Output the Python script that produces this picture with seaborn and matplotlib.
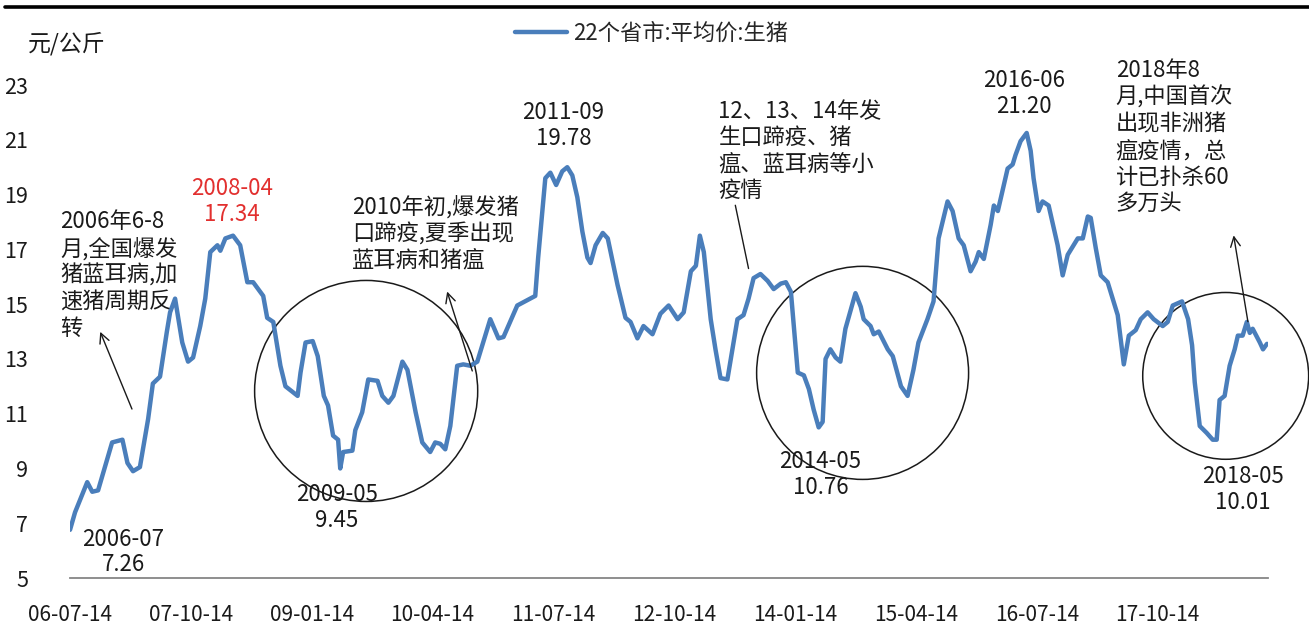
import pandas as pd
import matplotlib
matplotlib.use('Agg')
import matplotlib.pyplot as plt
import matplotlib.dates as mdates
from matplotlib.patches import Ellipse
from matplotlib.lines import Line2D
import seaborn as sns

# 数据：22个省市生猪平均价（元/公斤）
dates = [
    '2006-07-14', '2006-08-02', '2006-09-17', '2006-10-06', '2006-10-28', '2006-12-20',
    '2007-01-28', '2007-02-16', '2007-03-09', '2007-04-04', '2007-05-05', '2007-05-23',
    '2007-06-19', '2007-07-15', '2007-07-27', '2007-08-15', '2007-09-11', '2007-10-03',
    '2007-10-22', '2007-11-18', '2007-12-07', '2007-12-26', '2008-01-22', '2008-02-02',
    '2008-02-21', '2008-03-21', '2008-04-17', '2008-05-14', '2008-06-05', '2008-06-24',
    '2008-07-13', '2008-07-28', '2008-08-20', '2008-09-16', '2008-10-05', '2008-11-20',
    '2008-12-01', '2008-12-20', '2009-01-16', '2009-02-04', '2009-02-27', '2009-03-15',
    '2009-04-03', '2009-04-22', '2009-04-30', '2009-05-11', '2009-06-15', '2009-06-26',
    '2009-07-22', '2009-08-14', '2009-09-18', '2009-10-06', '2009-10-29', '2009-11-17',
    '2009-12-21', '2010-01-09', '2010-02-09', '2010-03-06', '2010-04-05', '2010-04-24',
    '2010-05-13', '2010-06-01', '2010-06-20', '2010-07-16', '2010-08-08', '2010-09-04',
    '2010-09-30', '2010-10-19', '2010-11-18', '2010-12-19', '2011-01-07', '2011-02-28',
    '2011-04-18', '2011-05-07', '2011-05-18', '2011-06-14', '2011-07-03', '2011-07-25',
    '2011-08-17', '2011-09-05', '2011-09-24', '2011-10-13', '2011-11-01', '2011-11-20',
    '2011-12-02', '2011-12-21', '2012-01-17', '2012-02-05', '2012-03-13', '2012-04-12',
    '2012-05-01', '2012-05-27', '2012-06-19', '2012-07-23', '2012-08-22', '2012-09-22',
    '2012-10-26', '2012-11-18', '2012-12-15', '2013-01-03', '2013-01-18', '2013-02-02',
    '2013-02-28', '2013-03-18', '2013-04-06', '2013-05-02', '2013-05-21', '2013-06-09',
    '2013-07-02', '2013-07-21', '2013-08-09', '2013-09-04', '2013-10-01', '2013-10-24',
    '2013-11-20', '2013-12-09', '2013-12-28', '2014-01-23', '2014-02-15', '2014-03-06',
    '2014-03-24', '2014-04-12', '2014-04-27', '2014-05-08', '2014-05-26', '2014-06-15',
    '2014-07-03', '2014-07-22', '2014-08-29', '2014-09-18', '2014-09-29', '2014-10-25',
    '2014-11-06', '2014-11-25', '2014-12-29', '2015-01-17', '2015-02-17', '2015-03-14',
    '2015-04-05', '2015-04-24', '2015-05-28', '2015-06-20', '2015-07-09', '2015-08-12',
    '2015-08-31', '2015-09-23', '2015-10-12', '2015-11-07', '2015-11-26', '2015-12-08',
    '2015-12-27', '2016-01-22', '2016-02-03', '2016-02-18', '2016-03-26', '2016-04-14',
    '2016-04-25', '2016-05-14', '2016-06-06', '2016-06-21', '2016-07-02', '2016-07-21',
    '2016-08-05', '2016-08-28', '2016-10-01', '2016-10-20', '2016-11-08', '2016-12-16',
    '2017-01-04', '2017-01-23', '2017-02-03', '2017-02-22', '2017-03-13', '2017-04-08',
    '2017-05-16', '2017-06-08', '2017-06-27', '2017-07-23', '2017-08-11', '2017-09-06',
    '2017-09-29', '2017-11-02', '2017-11-21', '2017-12-10', '2018-01-14', '2018-02-06',
    '2018-02-21', '2018-03-03', '2018-03-22', '2018-04-17', '2018-05-10', '2018-05-25',
    '2018-06-05', '2018-06-24', '2018-07-13', '2018-08-01', '2018-08-13', '2018-08-31',
    '2018-09-16', '2018-09-27', '2018-10-08', '2018-11-04', '2018-11-16', '2018-12-01',
]
prices = [
    6.76, 7.40, 8.50, 8.15, 8.20, 9.95,
    10.05, 9.20, 8.90, 9.05, 10.80, 12.10,
    12.35, 14.00, 14.70, 15.20, 13.60, 12.90,
    13.05, 14.20, 15.20, 16.90, 17.15, 16.95,
    17.40, 17.50, 17.15, 15.80, 15.80, 15.55,
    15.30, 14.50, 14.35, 12.75, 12.00, 11.65,
    12.50, 13.60, 13.65, 13.10, 11.65, 11.30,
    10.20, 10.05, 9.00, 9.60, 9.65, 10.40,
    11.05, 12.25, 12.20, 11.65, 11.40, 11.65,
    12.90, 12.60, 11.05, 9.95, 9.60, 9.95,
    9.90, 9.70, 10.55, 12.75, 12.80, 12.75,
    12.90, 13.50, 14.45, 13.75, 13.80, 14.95,
    15.20, 15.30, 16.70, 19.60, 19.80, 19.35,
    19.85, 20.00, 19.70, 18.90, 17.65, 16.70,
    16.50, 17.15, 17.60, 17.40, 15.70, 14.50,
    14.35, 13.75, 14.20, 13.90, 14.65, 14.95,
    14.45, 14.70, 16.20, 16.40, 17.50, 16.90,
    14.45, 13.35, 12.30, 12.25, 13.35, 14.45,
    14.60, 15.20, 15.95, 16.10, 15.85, 15.55,
    15.75, 15.80, 15.45, 12.50, 12.40, 11.90,
    11.15, 10.50, 10.70, 13.00, 13.35, 13.05,
    12.90, 14.10, 15.40, 14.90, 14.45, 14.20,
    13.90, 14.00, 13.35, 13.10, 12.00, 11.65,
    12.60, 13.60, 14.45, 15.10, 17.40, 18.75,
    18.40, 17.40, 17.15, 16.20, 16.55, 16.90,
    16.65, 17.90, 18.60, 18.40, 19.95, 20.10,
    20.45, 20.95, 21.25, 20.60, 19.60, 18.40,
    18.75, 18.60, 17.15, 16.05, 16.80, 17.40,
    17.40, 18.20, 18.15, 17.05, 16.05, 15.80,
    14.60, 12.80, 13.85, 14.05, 14.45, 14.70,
    14.45, 14.20, 14.35, 14.95, 15.10, 14.45,
    13.50, 12.15, 10.55, 10.30, 10.05, 10.05,
    11.50, 11.65, 12.75, 13.35, 13.85, 13.85,
    14.35, 13.95, 14.10, 13.60, 13.35, 13.55,
]

series_name = '22个省市:平均价:生猪'
tick_dates = ['2006-07-14', '2007-10-14', '2009-01-14', '2010-04-14', '2011-07-14',
              '2012-10-14', '2014-01-14', '2015-04-14', '2016-07-14', '2017-10-14']
y_ticks = list(range(5, 24, 2))

# 极值标注 (日期, 数值, 文本, 颜色)
peak_labels = [
    ('2007-02-01', 5.95, '2006-07\n7.26', '#1a1a1a'),
    ('2008-03-18', 18.76, '2008-04\n17.34', '#E2302F'),
    ('2009-04-18', 7.57, '2009-05\n9.45', '#1a1a1a'),
    ('2011-08-21', 21.51, '2011-09\n19.78', '#1a1a1a'),
    ('2014-04-19', 8.78, '2014-05\n10.76', '#1a1a1a'),
    ('2016-05-26', 22.69, '2016-06\n21.20', '#1a1a1a'),
    ('2018-08-31', 8.23, '2018-05\n10.01', '#1a1a1a'),
]

# 事件说明 (文本左上角日期, 数值, 文本)
notes = [
    ('2006-06-07', 18.43, '2006年6-8\n月,全国爆发\n猪蓝耳病,加\n速猪周期反\n转'),
    ('2009-06-15', 18.98, '2010年初,爆发猪\n口蹄疫,夏季出现\n蓝耳病和猪瘟'),
    ('2013-03-29', 22.47, '12、13、14年发\n生口蹄疫、猪\n瘟、蓝耳病等小\n疫情'),
    ('2017-05-08', 23.95, '2018年8\n月,中国首次\n出现非洲猪\n瘟疫情，总\n计已扑杀60\n多万头'),
]

# 箭头 (尾部, 头部, 是否有箭头)
arrows = [
    (('2007-03-05', 11.17), ('2006-11-05', 13.99), True),
    (('2010-09-11', 12.56), ('2010-06-08', 15.46), True),
    (('2013-07-21', 16.30), ('2013-06-01', 18.61), False),
    (('2018-09-20', 14.36), ('2018-07-28', 17.51), True),
]

# 圈注 (中心日期, 中心数值, 宽度天数, 高度)
circles = [
    ('2009-08-06', 11.83, 843, 8.07),
    ('2014-09-25', 12.49, 801, 7.78),
    ('2018-06-28', 12.38, 627, 6.09),
]

df = pd.DataFrame({'date': pd.to_datetime(dates), 'price': prices})

sns.set_style('white')
plt.rcParams['font.family'] = ['Noto Sans CJK SC', 'DejaVu Sans']
plt.rcParams['axes.unicode_minus'] = False

fig = plt.figure(figsize=(13.09, 6.28), dpi=100)
ax = fig.add_axes([0.0535, 0.0796, 0.9152, 0.785])

sns.lineplot(data=df, x='date', y='price', ax=ax, color='#4A7EBB',
             linewidth=3.2, label=series_name)

ax.set_ylim(5, 23)
ax.set_xlim(pd.Timestamp(tick_dates[0]), pd.Timestamp('2018-12-05'))
ax.set_yticks(y_ticks)
ax.set_xticks(pd.to_datetime(tick_dates))
ax.xaxis.set_major_formatter(mdates.DateFormatter('%y-%m-%d'))
ax.set_xlabel('')
ax.set_ylabel('')

for side in ['top', 'right', 'left']:
    ax.spines[side].set_visible(False)
ax.spines['bottom'].set_color('#868686')
ax.spines['bottom'].set_linewidth(1.3)
ax.tick_params(axis='x', direction='out', length=5, width=1.2, color='#868686',
               labelsize=15, pad=14, labelcolor='#1a1a1a')
ax.tick_params(axis='y', length=0, labelsize=15.5, pad=30, labelcolor='#1a1a1a')

# 图例
ax.legend(loc='center', bbox_to_anchor=(0.498, 0.947), bbox_transform=fig.transFigure,
          frameon=False, fontsize=16, handlelength=2.3, handletextpad=0.3)

fig.text(0.021, 0.931, '元/公斤', fontsize=16.5, color='#1a1a1a', va='center')

for d, v, txt, col in peak_labels:
    ax.text(pd.Timestamp(d), v, txt, ha='center', va='center', fontsize=16,
            color=col, linespacing=1.15)

for d, v, txt in notes:
    ax.text(pd.Timestamp(d), v, txt, ha='left', va='top', fontsize=16,
            color='#1a1a1a', linespacing=1.2)

for (td, tv), (hd, hv), head in arrows:
    style = '->,head_length=0.7,head_width=0.35' if head else '-'
    ax.annotate('', xy=(pd.Timestamp(hd), hv), xytext=(pd.Timestamp(td), tv),
                arrowprops=dict(arrowstyle=style, color='#1a1a1a', lw=1.0,
                                shrinkA=0, shrinkB=0))

for d, v, w, h in circles:
    ell = Ellipse((mdates.date2num(pd.Timestamp(d)), v), w, h, fill=False,
                  edgecolor='#1a1a1a', linewidth=1.1, clip_on=False)
    ax.add_patch(ell)

# 顶部黑线
fig.add_artist(Line2D([0.004, 1.0], [0.989, 0.989], color='black', linewidth=2.6))

fig.savefig('out.png', dpi=100)
